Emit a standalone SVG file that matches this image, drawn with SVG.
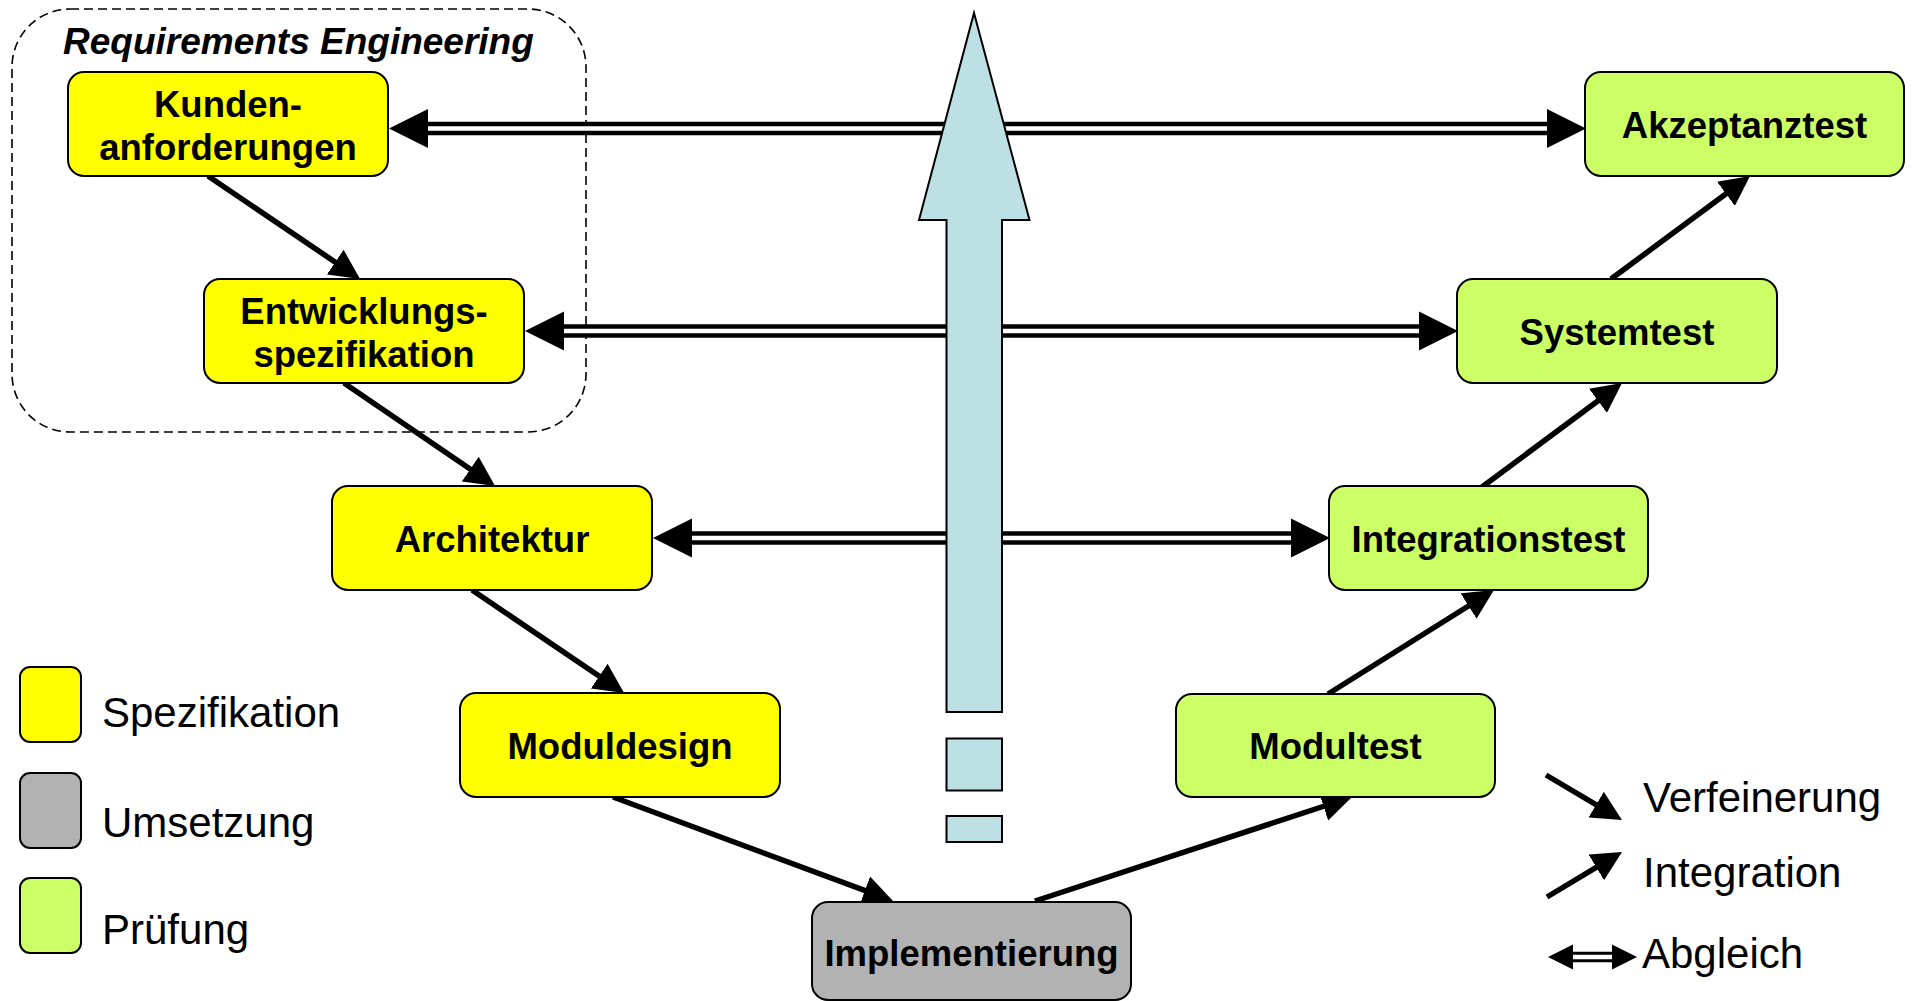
<svg xmlns="http://www.w3.org/2000/svg" width="1914" height="1001" viewBox="0 0 1914 1001">
<style>
.node{stroke:#000;stroke-width:2}
.spec{fill:#ffff00}
.impl{fill:#b2b2b2}
.test{fill:#ccff66}
.lbl{font-family:"Liberation Sans",Arial,sans-serif;font-weight:bold;font-size:36.5px;fill:#000;text-anchor:middle}
.leg{font-family:"Liberation Sans",Arial,sans-serif;font-size:42px;fill:#000}
.arr{stroke:#000;stroke-width:5.5;fill:none;marker-end:url(#ah)}
.dbl-o{stroke:#000;stroke-width:13.3;fill:none}
.dbl-i{stroke:#fff;stroke-width:4.5;fill:none}
.head{fill:#000}
</style>
<defs>
<marker id="ah" markerUnits="userSpaceOnUse" markerWidth="30" markerHeight="30" viewBox="0 0 30 30" refX="14" refY="15" orient="auto">
<path d="M0,0 L30,15 L0,30 z" fill="#000"/>
</marker>
</defs>
<rect x="0" y="0" width="1914" height="1001" fill="#fff"/>

<g id="requirements-engineering">
<rect x="12" y="9" width="574" height="423" rx="58" ry="58" fill="none" stroke="#000" stroke-width="1.6" stroke-dasharray="9 5"/>
<text x="63" y="54" font-family="Liberation Sans,Arial,sans-serif" font-weight="bold" font-style="italic" font-size="37" fill="#000">Requirements Engineering</text>
</g>

<g id="connectors">
<g id="abgleich-1">
<line class="dbl-o" x1="425" y1="128.5" x2="1549" y2="128.5"/>
<line class="dbl-i" x1="425" y1="128.5" x2="1549" y2="128.5"/>
<polygon class="head" points="389,128.5 428,109 428,148"/>
<polygon class="head" points="1586,128.5 1547,109 1547,148"/>
</g>
<g id="abgleich-2">
<line class="dbl-o" x1="561" y1="331" x2="1421" y2="331"/>
<line class="dbl-i" x1="561" y1="331" x2="1421" y2="331"/>
<polygon class="head" points="525,331 564,311.5 564,350.5"/>
<polygon class="head" points="1458,331 1419,311.5 1419,350.5"/>
</g>
<g id="abgleich-3">
<line class="dbl-o" x1="689" y1="538" x2="1293" y2="538"/>
<line class="dbl-i" x1="689" y1="538" x2="1293" y2="538"/>
<polygon class="head" points="653,538 692,518.5 692,557.5"/>
<polygon class="head" points="1330,538 1291,518.5 1291,557.5"/>
</g>
<line class="arr" x1="208" y1="176" x2="346.8" y2="270"/>
<line class="arr" x1="344" y1="383" x2="481.8" y2="477"/>
<line class="arr" x1="472" y1="590" x2="610.8" y2="684"/>
<line class="arr" x1="613" y1="797" x2="878" y2="895.4"/>
<line class="arr" x1="1035" y1="901" x2="1336.8" y2="802"/>
<line class="arr" x1="1328" y1="694" x2="1480.4" y2="598.5"/>
<line class="arr" x1="1482" y1="487" x2="1609.2" y2="392.5"/>
<line class="arr" x1="1611" y1="279" x2="1737.2" y2="185.5"/>
</g>

<g id="nodes">
<g id="node-kundenanforderungen">
<rect class="node spec" x="68" y="72" width="320" height="104" rx="16"/>
<text class="lbl" x="228" y="117">Kunden-</text>
<text class="lbl" x="228" y="159.5">anforderungen</text>
</g>
<g id="node-entwicklungsspezifikation">
<rect class="node spec" x="204" y="279" width="320" height="104" rx="16"/>
<text class="lbl" x="364" y="324">Entwicklungs-</text>
<text class="lbl" x="364" y="366.5">spezifikation</text>
</g>
<g id="node-architektur">
<rect class="node spec" x="332" y="486" width="320" height="104" rx="16"/>
<text class="lbl" x="492" y="551.5">Architektur</text>
</g>
<g id="node-moduldesign">
<rect class="node spec" x="460" y="693" width="320" height="104" rx="16"/>
<text class="lbl" x="620" y="758.5">Moduldesign</text>
</g>
<g id="node-implementierung">
<rect class="node impl" x="812" y="902" width="319" height="98" rx="16"/>
<text class="lbl" x="971.5" y="966">Implementierung</text>
</g>
<g id="node-modultest">
<rect class="node test" x="1176" y="694" width="319" height="103" rx="16"/>
<text class="lbl" x="1335.5" y="759">Modultest</text>
</g>
<g id="node-integrationstest">
<rect class="node test" x="1329" y="486" width="319" height="104" rx="16"/>
<text class="lbl" x="1488.5" y="551.5">Integrationstest</text>
</g>
<g id="node-systemtest">
<rect class="node test" x="1457" y="279" width="320" height="104" rx="16"/>
<text class="lbl" x="1617" y="344.5">Systemtest</text>
</g>
<g id="node-akzeptanztest">
<rect class="node test" x="1585" y="72" width="319" height="104" rx="16"/>
<text class="lbl" x="1744.5" y="137.5">Akzeptanztest</text>
</g>
</g>

<g id="big-arrow" fill="#bce0e3" stroke="#000" stroke-width="2">
<polygon points="974,13 1029.5,220 1002,220 1002,712 946.5,712 946.5,220 919,220"/>
<rect x="946.5" y="738.5" width="55.5" height="52"/>
<rect x="946.5" y="816" width="55.5" height="26"/>
</g>

<g id="legend">
<rect class="node spec" x="20" y="667" width="61" height="75" rx="10"/>
<text class="leg" x="102" y="727">Spezifikation</text>
<rect class="node impl" x="20" y="773" width="61" height="75" rx="10"/>
<text class="leg" x="102" y="837">Umsetzung</text>
<rect class="node test" x="20" y="878" width="61" height="75" rx="10"/>
<text class="leg" x="102" y="944">Prüfung</text>

<line class="arr" x1="1546" y1="775" x2="1608.2" y2="811.8"/>
<text class="leg" x="1643" y="812">Verfeinerung</text>
<line class="arr" x1="1547" y1="897" x2="1608.3" y2="860.2"/>
<text class="leg" x="1643" y="887">Integration</text>
<line stroke="#000" stroke-width="10.5" x1="1571" y1="957" x2="1614" y2="957"/>
<line stroke="#fff" stroke-width="4.5" x1="1571" y1="957" x2="1614" y2="957"/>
<polygon class="head" points="1548,957 1573,944.5 1573,969.5"/>
<polygon class="head" points="1637,957 1612,944.5 1612,969.5"/>
<text class="leg" x="1642" y="968">Abgleich</text>
</g>
</svg>
